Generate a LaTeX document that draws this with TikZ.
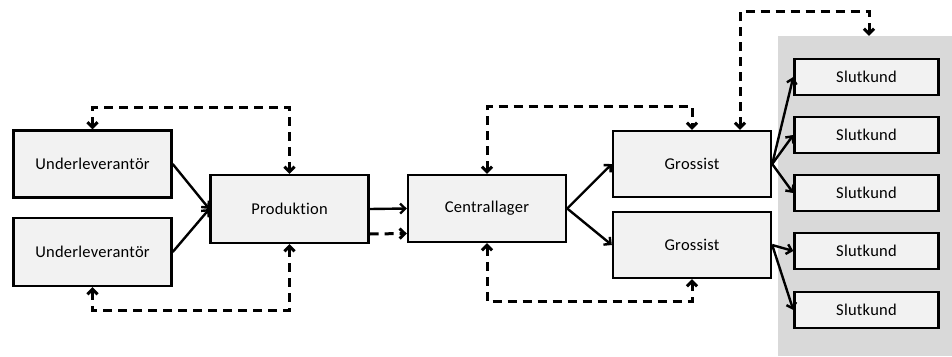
\documentclass[tikz,border=0pt]{standalone}
\usepackage{fontspec}
\setmainfont{Carlito}[Ligatures=NoCommon,LetterSpace=1.5]
\usetikzlibrary{arrows.meta}
\definecolor{boxfill}{HTML}{F2F2F2}
\definecolor{kundgrey}{HTML}{D9D9D9}
\begin{document}
\begin{tikzpicture}[x=1pt,y=-1pt,
	box/.style={draw,line width=2.4pt,fill=boxfill,minimum width=158pt,minimum height=67pt,inner sep=0pt,font=\fontsize{16.5}{19}\selectfont},
	kund/.style={box,minimum width=144pt,minimum height=36pt},
	flow/.style={line width=2.4pt,-{Straight Barb[length=5pt,width=10pt]}},
	info/.style={line width=3pt,dash pattern=on 9pt off 6pt,{Straight Barb[length=5pt,width=10pt]}-{Straight Barb[length=5pt,width=10pt]}}]
	\useasboundingbox (0,0) rectangle (952,356);
	% kundomraade
	\node[fill=kundgrey,minimum width=174pt,minimum height=320pt,inner sep=0pt] (kunder) at (865,196) {};
	% kedjan
	\node[box] (ul1) at (92.5,164) {Underleverantör};
	\node[box,minimum height=68pt] (ul2) at (92.5,252) {Underleverantör};
	\node[box,minimum height=68pt] (prod) at (289.5,209) {Produktion};
	\node[box] (cent) at (487,208.5) {Centrallager};
	\node[box,minimum height=66pt] (gr1) at (692,164) {Grossist};
	\node[box,minimum height=66pt] (gr2) at (692,245) {Grossist};
	\foreach \i/\y in {1/77,2/135,3/193,4/251,5/310}
		\node[kund] (sk\i) at (866.5,\y) {Slutkund};
	% varufloede
	\draw[flow] (ul1.east) -- (prod.west);
	\draw[flow] (ul2.east) -- (prod.west);
	\draw[flow] (prod.east) -- (cent.west);
	\draw[flow,dash pattern=on 9pt off 6pt,line width=3pt] ([yshift=-25pt]prod.east) -- ([yshift=-25pt]cent.west);
	\draw[flow] (cent.east) -- (gr1.west);
	\draw[flow] (cent.east) -- (gr2.west);
	\foreach \k in {1,2,3}
		\draw[flow] (gr1.east) -- (sk\k.west);
	\foreach \k in {4,5}
		\draw[flow] (gr2.east) -- (sk\k.west);
	% informationsfloede
	\draw[info] (ul1.north) -- ++(0,-22) -| (prod.north);
	\draw[info] (ul2.south) -- ++(0,23) -| (prod.south);
	\draw[info] (cent.north) -- ++(0,-67) -| (gr1.north);
	\draw[info] (cent.south) -- ++(0,58) -| (gr2.south);
	\draw[info] ([xshift=48pt]gr1.north) -- ++(0,-118) -| ([xshift=4pt]kunder.north);
\end{tikzpicture}
\end{document}
